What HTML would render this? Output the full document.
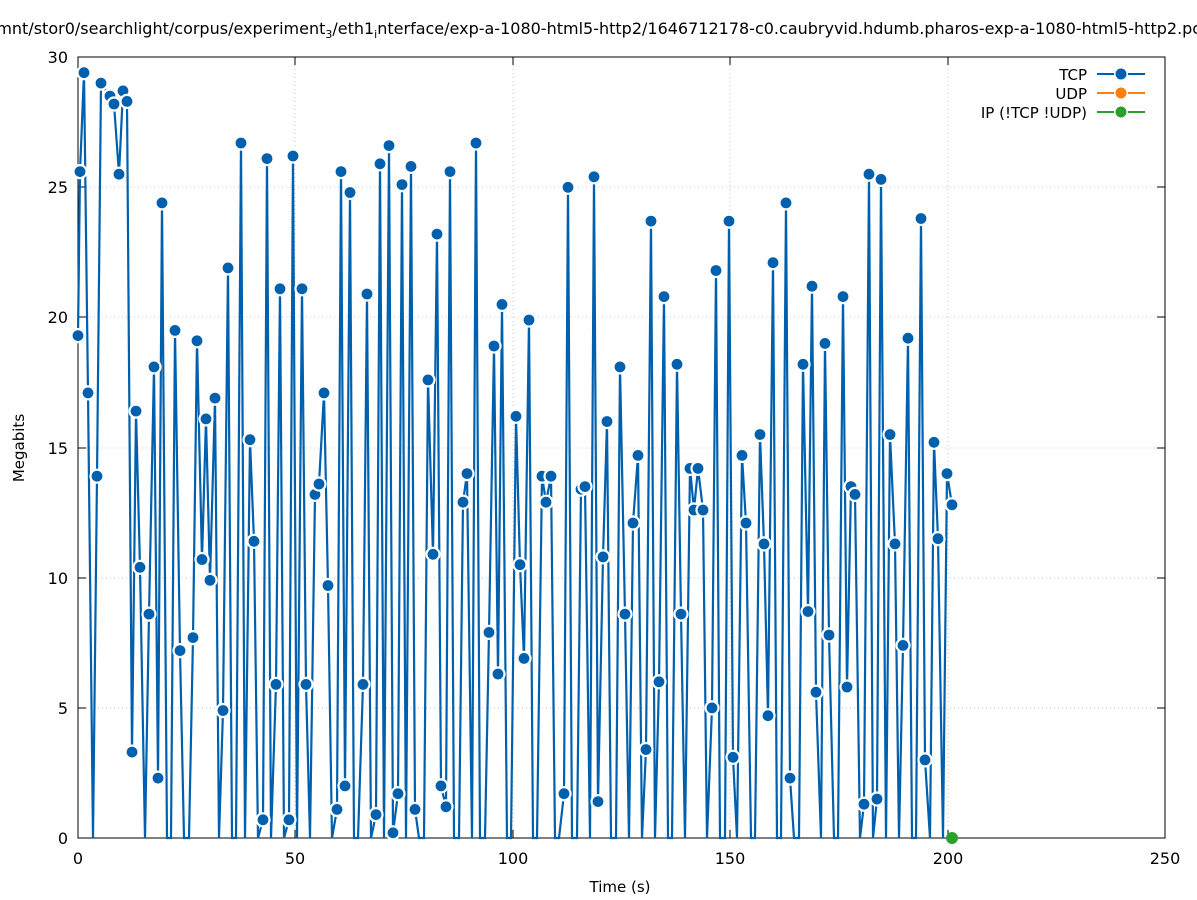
<!DOCTYPE html>
<html><head><meta charset="utf-8"><style>
html,body{margin:0;padding:0;background:#fff;}
svg{display:block;font-family:"DejaVu Sans","Liberation Sans",sans-serif;}
</style></head><body>
<svg id="s" width="1197" height="900" viewBox="0 0 1197 900" xmlns="http://www.w3.org/2000/svg">
<rect width="1197" height="900" fill="#fff"/>
<g stroke="#c8c8c8" stroke-width="1" stroke-dasharray="1,3">
<line x1="78" y1="708" x2="1165" y2="708"/><line x1="78" y1="578" x2="1165" y2="578"/>
<line x1="78" y1="448" x2="1165" y2="448"/><line x1="78" y1="317" x2="1165" y2="317"/>
<line x1="78" y1="187" x2="1165" y2="187"/>
<line x1="295" y1="57" x2="295" y2="838"/><line x1="513" y1="57" x2="513" y2="838"/>
<line x1="730" y1="57" x2="730" y2="838"/><line x1="948" y1="57" x2="948" y2="838"/>
</g>
<rect x="78" y="57" width="1087" height="781" fill="none" stroke="#000" stroke-width="1"/>
<g stroke="#000" stroke-width="1">
<line x1="78" y1="708" x2="86" y2="708"/><line x1="78" y1="578" x2="86" y2="578"/><line x1="78" y1="448" x2="86" y2="448"/><line x1="78" y1="317" x2="86" y2="317"/><line x1="78" y1="187" x2="86" y2="187"/>
<line x1="1165" y1="708" x2="1157" y2="708"/><line x1="1165" y1="578" x2="1157" y2="578"/><line x1="1165" y1="448" x2="1157" y2="448"/><line x1="1165" y1="317" x2="1157" y2="317"/><line x1="1165" y1="187" x2="1157" y2="187"/>
<line x1="295" y1="838" x2="295" y2="830"/><line x1="513" y1="838" x2="513" y2="830"/><line x1="730" y1="838" x2="730" y2="830"/><line x1="948" y1="838" x2="948" y2="830"/>
<line x1="295" y1="57" x2="295" y2="65"/><line x1="513" y1="57" x2="513" y2="65"/><line x1="730" y1="57" x2="730" y2="65"/><line x1="948" y1="57" x2="948" y2="65"/>
</g>
<g font-size="16" fill="#000" text-anchor="end">
<text x="68" y="844">0</text><text x="68" y="714">5</text><text x="68" y="584">10</text><text x="68" y="454">15</text><text x="68" y="323">20</text><text x="68" y="193">25</text><text x="68" y="63">30</text>
</g>
<g font-size="16" fill="#000" text-anchor="middle">
<text x="78" y="864">0</text><text x="295" y="864">50</text><text x="513" y="864">100</text><text x="730" y="864">150</text><text x="948" y="864">200</text><text x="1165" y="864">250</text>
<text x="620" y="892" font-size="15">Time (s)</text>
<text x="606" y="34" font-size="16">/mnt/stor0/searchlight/corpus/experiment<tspan dy="4" font-size="11">3</tspan><tspan dy="-4">/eth1</tspan><tspan dy="4" font-size="11">i</tspan><tspan dy="-4">nterface/exp-a-1080-html5-http2/1646712178-c0.caubryvid.hdumb.pharos-exp-a-1080-html5-http2.pcap</tspan></text>
</g>
<text x="24" y="448" font-size="15" text-anchor="middle" transform="rotate(-90 24 448)">Megabits</text>
<g id="data"></g>
<circle cx="952" cy="838" r="6" fill="#2ca02c"/>
<g font-size="15" text-anchor="end">
<text x="1087" y="80">TCP</text><text x="1087" y="99">UDP</text><text x="1087" y="118">IP (!TCP  !UDP)</text>
</g>
<g stroke-width="2">
<line x1="1097" y1="74" x2="1145" y2="74" stroke="#0060ad"/><circle cx="1121" cy="74" r="7" fill="#fff"/><circle cx="1121" cy="74" r="5.5" fill="#0060ad"/>
<line x1="1097" y1="93" x2="1145" y2="93" stroke="#ff7f0e"/><circle cx="1121" cy="93" r="7" fill="#fff"/><circle cx="1121" cy="93" r="5.5" fill="#ff7f0e"/>
<line x1="1097" y1="112" x2="1145" y2="112" stroke="#2ca02c"/><circle cx="1121" cy="112" r="7" fill="#fff"/><circle cx="1121" cy="112" r="5.5" fill="#2ca02c"/>
</g>
</svg>
<script>
var d=[[78,19.3],[80,25.6],[84,29.4],[88,17.1],[93,0],[97,13.9],[101,29.0],[110,28.5],[114,28.2],[119,25.5],[123,28.7],[127,28.3],[132,3.3],[136,16.4],[140,10.4],[145,0],[149,8.6],[154,18.1],[158,2.3],[162,24.4],[167,0],[171,0],[175,19.5],[180,7.2],[184,0],[189,0],[193,7.7],[197,19.1],[202,10.7],[206,16.1],[210,9.9],[215,16.9],[219,0],[223,4.9],[228,21.9],[232,0],[236,0],[241,26.7],[245,0],[250,15.3],[254,11.4],[258,0],[263,0.7],[267,26.1],[271,0],[276,5.9],[280,21.1],[284,0],[289,0.7],[293,26.2],[297,0],[302,21.1],[306,5.9],[310,0],[315,13.2],[319,13.6],[324,17.1],[328,9.7],[332,0],[337,1.1],[341,25.6],[345,2.0],[350,24.8],[354,0],[358,0],[363,5.9],[367,20.9],[371,0],[376,0.9],[380,25.9],[384,0],[389,26.6],[393,0.2],[398,1.7],[402,25.1],[406,0],[411,25.8],[415,1.1],[419,0],[424,0],[428,17.6],[433,10.9],[437,23.2],[441,2.0],[446,1.2],[450,25.6],[454,0],[459,0],[463,12.9],[467,14.0],[472,0],[476,26.7],[480,0],[485,0],[489,7.9],[494,18.9],[498,6.3],[502,20.5],[507,0],[511,0],[516,16.2],[520,10.5],[524,6.9],[529,19.9],[533,0],[537,0],[542,13.9],[546,12.9],[551,13.9],[555,0],[559,0],[564,1.7],[568,25.0],[572,0],[577,0],[581,13.4],[585,13.5],[590,0],[594,25.4],[598,1.4],[603,10.8],[607,16.0],[611,0],[616,0],[620,18.1],[625,8.6],[629,0],[633,12.1],[638,14.7],[642,0],[646,3.4],[651,23.7],[655,0],[659,6.0],[664,20.8],[668,0],[672,0],[677,18.2],[681,8.6],[685,0],[690,14.2],[694,12.6],[698,14.2],[703,12.6],[707,0],[712,5.0],[716,21.8],[720,0],[725,0],[729,23.7],[733,3.1],[737,0],[742,14.7],[746,12.1],[751,0],[755,0],[760,15.5],[764,11.3],[768,4.7],[773,22.1],[777,0],[781,0],[786,24.4],[790,2.3],[794,0],[799,0],[803,18.2],[808,8.7],[812,21.2],[816,5.6],[821,0],[825,19.0],[829,7.8],[834,0],[838,0],[843,20.8],[847,5.8],[851,13.5],[855,13.2],[860,0],[864,1.3],[869,25.5],[873,0],[877,1.5],[881,25.3],[886,0],[890,15.5],[895,11.3],[899,0],[903,7.4],[908,19.2],[912,0],[916,0],[921,23.8],[925,3.0],[930,0],[934,15.2],[938,11.5],[943,0],[947,14.0],[952,12.8]];
var ns="http://www.w3.org/2000/svg",g=document.getElementById("data");
function Y(v){return 838-v*26.03;}
var pts=d.map(function(p){return p[0]+","+Y(p[1]).toFixed(1)}).join(" ");
var pl=document.createElementNS(ns,"polyline");
pl.setAttribute("points",pts);pl.setAttribute("fill","none");pl.setAttribute("stroke","#0060ad");pl.setAttribute("stroke-width","2.2");
g.appendChild(pl);
d.forEach(function(p){if(p[1]<=0.05)return;var c=document.createElementNS(ns,"circle");
c.setAttribute("cx",p[0]);c.setAttribute("cy",Y(p[1]).toFixed(1));c.setAttribute("r","6.5");
c.setAttribute("fill","#0060ad");c.setAttribute("stroke","#fff");c.setAttribute("stroke-width","2.2");g.appendChild(c);});
</script>
</body></html>
